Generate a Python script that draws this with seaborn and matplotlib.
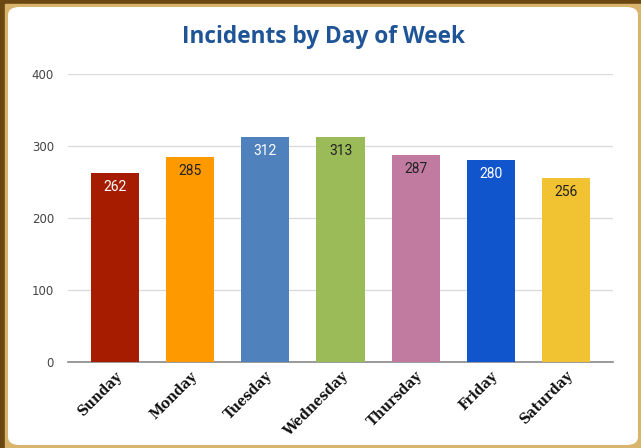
import pandas as pd
import matplotlib
matplotlib.use("Agg")
import matplotlib.pyplot as plt
import seaborn as sns
from matplotlib.patches import Rectangle, FancyBboxPatch

days = ["Sunday", "Monday", "Tuesday", "Wednesday", "Thursday", "Friday", "Saturday"]
incidents = [262, 285, 312, 313, 287, 280, 256]
bar_colors = ["#A61C00", "#FF9900", "#4F81BD", "#9BBB59", "#C27BA0", "#1155CC", "#F1C232"]
label_colors = ["white", "#222222", "white", "#222222", "#222222", "white", "#222222"]
y_ticks = [0, 100, 200, 300, 400]

W, H = 641, 448
df = pd.DataFrame({"day": days, "incidents": incidents})

sns.set_theme(style="whitegrid")
fig = plt.figure(figsize=(W / 100, H / 100), dpi=100)
fig.patch.set_facecolor("white")

# frame: dark brown top/left, tan inner edge, white rounded card
fig.patches.append(Rectangle((0, 0), 1, 1, transform=fig.transFigure,
                             color="#6B4712", zorder=-10))
fig.patches.append(Rectangle((5 / W, 0), 1, 444 / H, transform=fig.transFigure,
                             color="#D8B46C", zorder=-9))
fig.patches.append(FancyBboxPatch((8 / W, 3 / H), 630 / W, 438 / H,
                                  boxstyle="round,pad=0,rounding_size=0.018",
                                  transform=fig.transFigure, facecolor="white",
                                  edgecolor="none", zorder=-8))

ax = fig.add_axes([68 / W, 86 / H, 545 / W, 288 / H])
ax.set_facecolor("none")
sns.barplot(data=df, x="day", y="incidents", hue="day", palette=bar_colors,
            width=0.64, legend=False, saturation=1, linewidth=0, ax=ax, zorder=3)

for i, v in enumerate(incidents):
    ax.annotate(str(v), (i, v), xytext=(0, -5), textcoords="offset points",
                ha="center", va="top", fontsize=10, family="Roboto",
                color=label_colors[i], zorder=4)

ax.set_ylim(0, 400)
ax.set_xlim(-0.63, 6.63)
ax.set_yticks(y_ticks)
ax.set_yticklabels([str(t) for t in y_ticks], fontsize=8.5, color="#444444")
ax.set_xticks(range(len(days)))
ax.set_xticklabels(days, rotation=45, ha="right", rotation_mode="anchor",
                   fontsize=9.8, fontweight="bold", family="DejaVu Serif",
                   color="#111111")
ax.tick_params(axis="y", length=0, pad=10)
ax.tick_params(axis="x", length=0, pad=5)
ax.grid(axis="y", color="#D9D9D9", linewidth=0.9)
ax.grid(axis="x", visible=False)
for s in ["top", "right", "left"]:
    ax.spines[s].set_visible(False)
ax.spines["bottom"].set_color("#888888")
ax.spines["bottom"].set_linewidth(1.2)
ax.set_xlabel("")
ax.set_ylabel("")

fig.text(324 / W, 1 - 37 / H, "Incidents by Day of Week", ha="center", va="center",
         fontsize=16.3, fontweight="bold", family="Open Sans", color="#1F5597")

fig.savefig("out.png", dpi=100)
